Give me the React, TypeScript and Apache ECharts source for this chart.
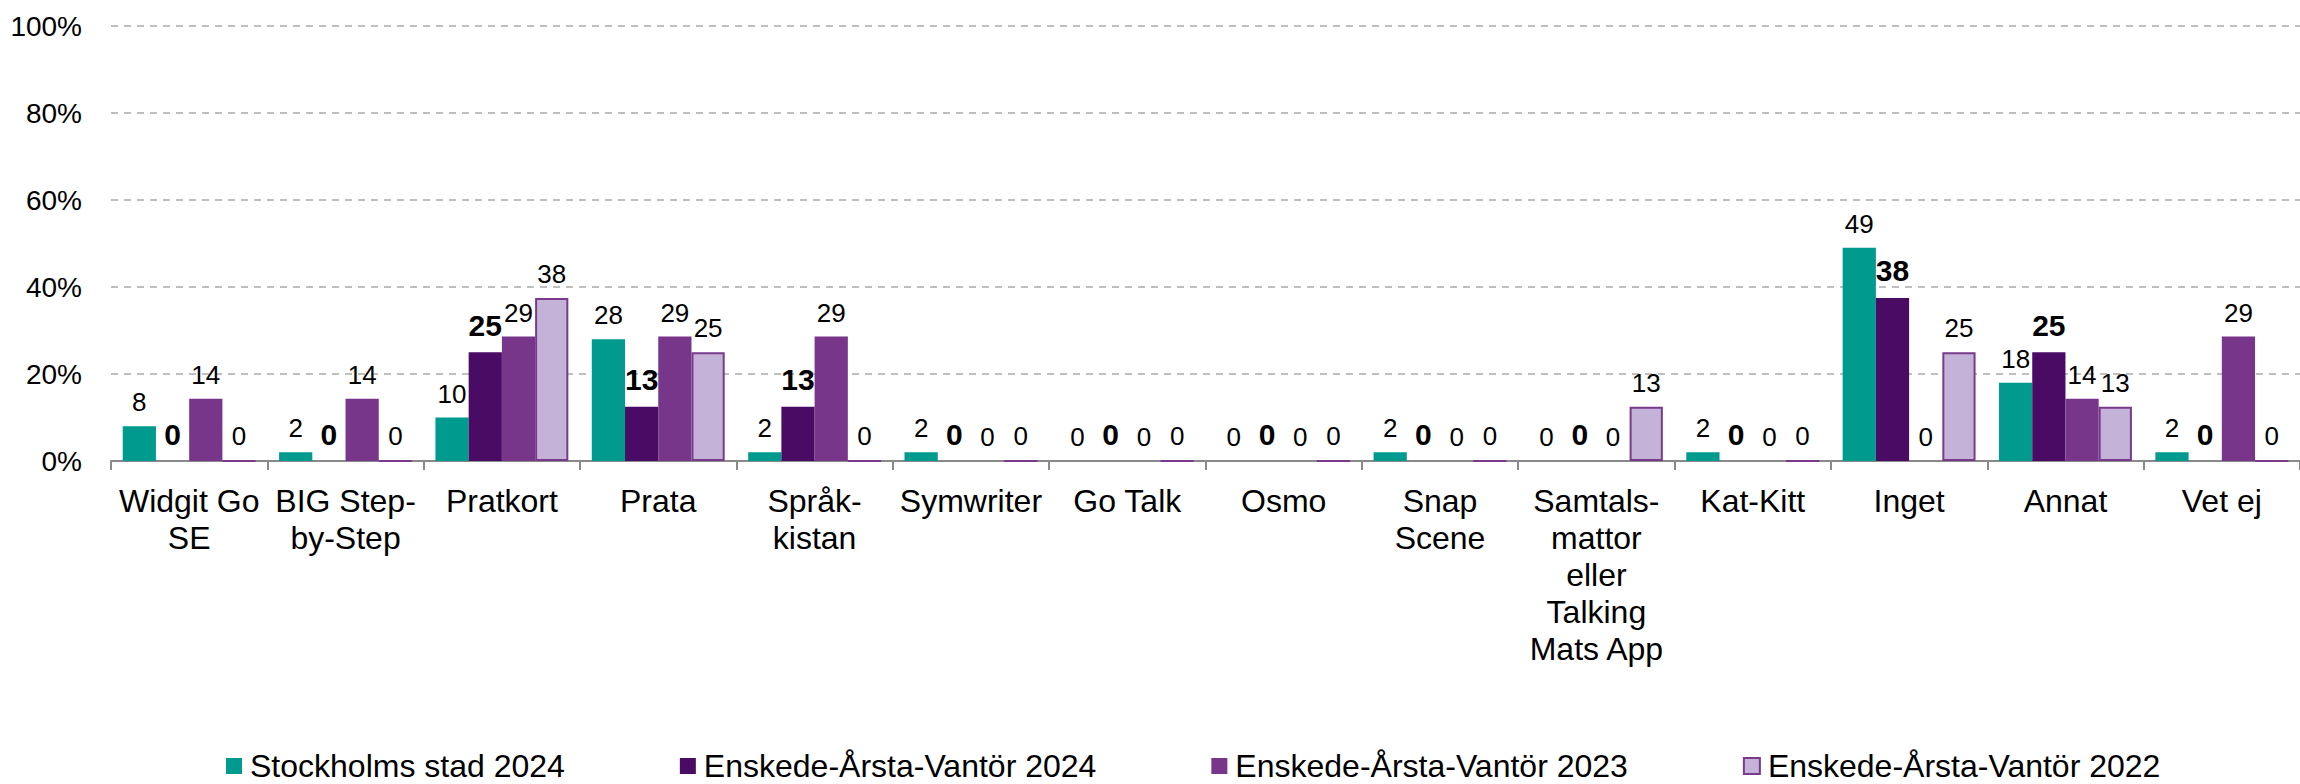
import React, { useEffect, useRef } from "react";
import * as echarts from "echarts";

const categories = [
  "Widgit Go\nSE",
  "BIG Step-\nby-Step",
  "Pratkort",
  "Prata",
  "Språk-\nkistan",
  "Symwriter",
  "Go Talk",
  "Osmo",
  "Snap\nScene",
  "Samtals-\nmattor\neller\nTalking\nMats App",
  "Kat-Kitt",
  "Inget",
  "Annat",
  "Vet ej",
];

const seriesNames = [
  "Stockholms stad 2024",
  "Enskede-Årsta-Vantör 2024",
  "Enskede-Årsta-Vantör 2023",
  "Enskede-Årsta-Vantör 2022",
];

const stockholm2024 = [8, 2, 10, 28, 2, 2, 0, 0, 2, 0, 2, 49, 18, 2];
const eav2024 = [0, 0, 25, 12.5, 12.5, 0, 0, 0, 0, 0, 0, 37.5, 25, 0];
const eav2023 = [14.3, 14.3, 28.6, 28.6, 28.6, 0, 0, 0, 0, 0, 0, 0, 14.3, 28.6];
const eav2022 = [0, 0, 37.5, 25, 0, 0, 0, 0, 0, 12.5, 0, 25, 12.5, 0];

const yTicks = { min: 0, max: 100, interval: 20 };

const FONT = "'Liberation Sans', Arial, sans-serif";

export default function App() {
  const ref = useRef<HTMLDivElement>(null);

  useEffect(() => {
    if (!ref.current) return;
    const chart = echarts.init(ref.current, null, { renderer: "svg" });

    const labelFmt = (p: any) => String(Math.round(p.value));
    const regularLabel = {
      show: true,
      position: "top",
      distance: 11,
      fontSize: 26,
      fontFamily: FONT,
      color: "#000",
      formatter: labelFmt,
    };
    const boldLabel = {
      ...regularLabel,
      fontSize: 30,
      fontWeight: "bold",
      distance: 12,
    };

    const common = {
      type: "bar",
      barGap: "0%",
      barCategoryGap: "15%",
    };

    chart.setOption({
      animation: false,
      textStyle: { fontFamily: FONT },
      grid: { left: 111, right: -16, top: 26, bottom: 323, containLabel: false },
      legend: {
        data: seriesNames,
        left: 226,
        top: 750,
        padding: 0,
        itemWidth: 16,
        itemHeight: 16,
        itemGap: 115,
        icon: "rect",
        textStyle: {
          fontSize: 32,
          lineHeight: 32,
          fontFamily: FONT,
          color: "#000",
          padding: [0, 0, 0, 3],
        },
      },
      xAxis: {
        type: "category",
        data: categories,
        boundaryGap: true,
        axisLine: { show: true, lineStyle: { color: "#898989", width: 2 } },
        axisTick: { show: true, length: 9, lineStyle: { color: "#898989", width: 2 } },
        axisLabel: {
          interval: 0,
          fontSize: 32,
          lineHeight: 37,
          margin: 21,
          color: "#000",
          fontFamily: FONT,
          align: "center",
        },
      },
      yAxis: {
        type: "value",
        min: yTicks.min,
        max: yTicks.max,
        interval: yTicks.interval,
        axisLine: { show: false },
        axisTick: { show: false },
        axisLabel: {
          formatter: "{value}%",
          fontSize: 28,
          margin: 29,
          color: "#000",
          fontFamily: FONT,
        },
        splitLine: {
          show: true,
          lineStyle: { color: "#BFBFBF", width: 2, type: [7, 6] },
        },
      },
      series: [
        {
          ...common,
          name: seriesNames[0],
          data: stockholm2024,
          itemStyle: { color: "#009A8F" },
          label: regularLabel,
        },
        {
          ...common,
          name: seriesNames[1],
          data: eav2024,
          itemStyle: { color: "#4A0B64" },
          label: boldLabel,
        },
        {
          ...common,
          name: seriesNames[2],
          data: eav2023,
          itemStyle: { color: "#773689" },
          label: regularLabel,
        },
        {
          ...common,
          name: seriesNames[3],
          data: eav2022,
          itemStyle: { color: "#C4B2D8", borderColor: "#7A3A8C", borderWidth: 2 },
          label: regularLabel,
        },
      ],
    });

    return () => chart.dispose();
  }, []);

  return (
    <div
      ref={ref}
      style={{ position: "fixed", left: 0, top: 0, width: 2300, height: 784, background: "#fff" }}
    />
  );
}
